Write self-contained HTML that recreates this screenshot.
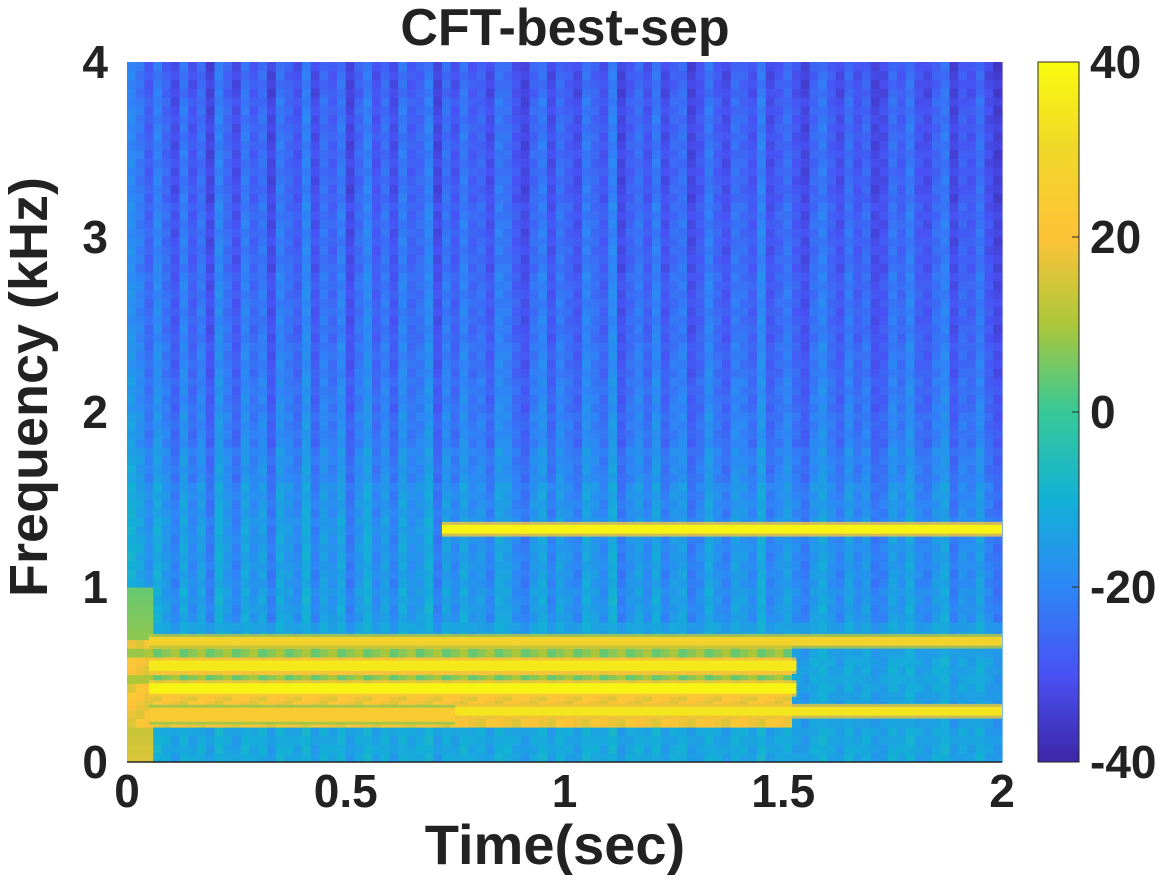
<!DOCTYPE html>
<html><head><meta charset="utf-8"><style>
body{margin:0;background:#fff;width:1167px;height:875px;overflow:hidden}
svg text{font-family:"Liberation Sans",sans-serif;font-weight:bold;fill:#222}
</style></head><body>
<svg id="chart" width="1167" height="875" xmlns="http://www.w3.org/2000/svg">
<g id="cells"></g>
<g id="lines"></g>
<line x1="127" y1="762" x2="1002" y2="762" stroke="#262626" stroke-width="1.5"/>
<text x="565" y="45" font-size="52" text-anchor="middle">CFT-best-sep</text>
<text x="555" y="864" font-size="56" text-anchor="middle">Time(sec)</text>
<text transform="translate(47,387) rotate(-90)" font-size="54" text-anchor="middle">Frequency (kHz)</text>
<g id="xt"></g>
<g id="yt"></g>
<defs><linearGradient id="cg" x1="0" y1="1" x2="0" y2="0">
<stop offset="0" stop-color="rgb(62,38,168)"/><stop offset="0.125" stop-color="rgb(72,82,244)"/>
<stop offset="0.25" stop-color="rgb(46,135,247)"/><stop offset="0.375" stop-color="rgb(18,177,214)"/>
<stop offset="0.5" stop-color="rgb(55,200,151)"/><stop offset="0.625" stop-color="rgb(171,199,57)"/>
<stop offset="0.75" stop-color="rgb(254,195,56)"/><stop offset="0.875" stop-color="rgb(240,215,40)"/>
<stop offset="1" stop-color="rgb(249,251,14)"/></linearGradient></defs>
<rect x="1038" y="62" width="41" height="700" fill="url(#cg)" stroke="#262626" stroke-width="1"/>
<g id="ct"></g>
</svg>
<script>
const xTicks=[0,0.5,1,1.5,2];
const xTickLabels=["0","0.5","1","1.5","2"];
const yTicks=[0,1,2,3,4];
const yTickLabels=["0","1","2","3","4"];
const cTicks=[-40,-20,0,20,40];
const cTickLabels=["-40","-20","0","20","40"];
// background level per 0.2 kHz band (0..4 kHz)
const bandLevels=[-12,-13,-12,-13,-15,-16,-16,-17,-19,-21,-22,-23,-24,-24,-25,-25,-26,-26,-26,-27];
// per-column offsets (100 time columns)
const colOffsets=[4,2,-1,3,0,-3,2,-2,1,-4,3,0,-3,2,-1,1,-4,2,0,-2,3,-3,1,-1,2,-4,0,3,-2,1,-3,2,-1,0,3,-4,1,-2,2,-1,
0,-3,2,1,-2,-4,0,2,-3,1,-1,-3,2,0,-2,3,-4,-1,1,-2,2,-3,0,1,-4,-2,2,-1,-3,1,0,-2,3,-3,-1,1,-2,-4,0,2,-1,-3,1,-2,0,-4,-3,1,-1,2,-2,-3,0,2,-4,-1,-2,1,-3,-5];
// harmonics: frequency kHz, start, end sec, level
const harmFreq=[0.27,0.29,0.42,0.55,0.69,1.33];
const harmStart=[0.05,0.75,0.05,0.05,0.05,0.72];
const harmEnd=[0.75,2,1.53,1.53,2,2];
const harmLevel=[24,34,38,35,28,38];
const harmWidth=[0.08,0.05,0.06,0.06,0.05,0.05];
const onsetEnd=0.05, onsetLevel=16;

const X0=127,X1=1002,Y0=762,Y1=62;
const xs=t=>X0+(X1-X0)*t/2, ys=f=>Y0-(Y0-Y1)*f/4, cy=v=>Y0-(Y0-Y1)*(v+40)/80;
const stops=[[62,38,168],[72,82,244],[46,135,247],[18,177,214],[55,200,151],[171,199,57],[254,195,56],[240,215,40],[249,251,14]];
function col(v){let p=Math.max(0,Math.min(1,(v+40)/80))*8;let i=Math.min(7,Math.floor(p)),r=p-i;
const a=stops[i],b=stops[i+1];return `rgb(${a.map((c,k)=>Math.round(c+(b[k]-c)*r)).join(',')})`;}
const NS='http://www.w3.org/2000/svg';
function mk(tag,attrs,parent){const e=document.createElementNS(NS,tag);for(const k in attrs)e.setAttribute(k,attrs[k]);parent.appendChild(e);return e;}
const cells=document.getElementById('cells');
const nT=colOffsets.length, nF=80;
for(let i=0;i<nT;i++){
  const t0=2*i/nT,t1=2*(i+1)/nT;
  for(let j=0;j<nF;j++){
    const f0=4*j/nF,f1=4*(j+1)/nF,fm=(f0+f1)/2;
    let v=bandLevels[Math.min(bandLevels.length-1,Math.floor(fm/0.2))]+colOffsets[i]*(fm>0.8?1.6:0.8)+((i*7+j*13)%5-2)*0.8;
    if(fm>0.22&&fm<0.72&&t0<1.52){v=(fm>0.33&&fm<0.37||fm>0.47&&fm<0.5||fm>0.6&&fm<0.64)?(4+((i+j)%3)*3):(16+((i*3+j)%4)*2);}
    if(t0<onsetEnd&&fm<1.0)v=Math.max(v,onsetLevel-fm*12);
    const r=mk('rect',{x:xs(t0).toFixed(2),y:ys(f1).toFixed(2),width:(xs(t1)-xs(t0)+0.6).toFixed(2),height:(ys(f0)-ys(f1)+0.6).toFixed(2),fill:col(v)},cells);
    
    
  }
}
const lines=document.getElementById('lines');
harmFreq.forEach((f,k)=>{
  const h=(ys(0)-ys(harmWidth[k]));
  const g=mk('rect',{x:xs(harmStart[k]),y:ys(f)-h/2-3,width:xs(harmEnd[k])-xs(harmStart[k]),height:h+6,fill:col(harmLevel[k]-16),opacity:0.8},lines);
  
  
  const r=mk('rect',{x:xs(harmStart[k]),y:ys(f)-h/2,width:xs(harmEnd[k])-xs(harmStart[k]),height:h,fill:col(harmLevel[k])},lines);
  
  
});
const xt=document.getElementById('xt');
xTicks.forEach((t,i)=>{
  const tx=mk('text',{x:xs(t),y:807,'font-size':46,'text-anchor':'middle'},xt);tx.textContent=xTickLabels[i];
  
  
});
const yt=document.getElementById('yt');
yTicks.forEach((f,i)=>{
  const tx=mk('text',{x:108,y:ys(f)+16,'font-size':46,'text-anchor':'end'},yt);tx.textContent=yTickLabels[i];
  
  
});
const ct=document.getElementById('ct');
cTicks.forEach((v,i)=>{
  const ln=mk('line',{x1:1072,x2:1079,y1:cy(v),y2:cy(v),stroke:'#262626','stroke-width':1},ct);
  
  
  const tx=mk('text',{x:1090,y:cy(v)+16,'font-size':46},ct);tx.textContent=cTickLabels[i];
  
  
});
</script>
</body></html>
